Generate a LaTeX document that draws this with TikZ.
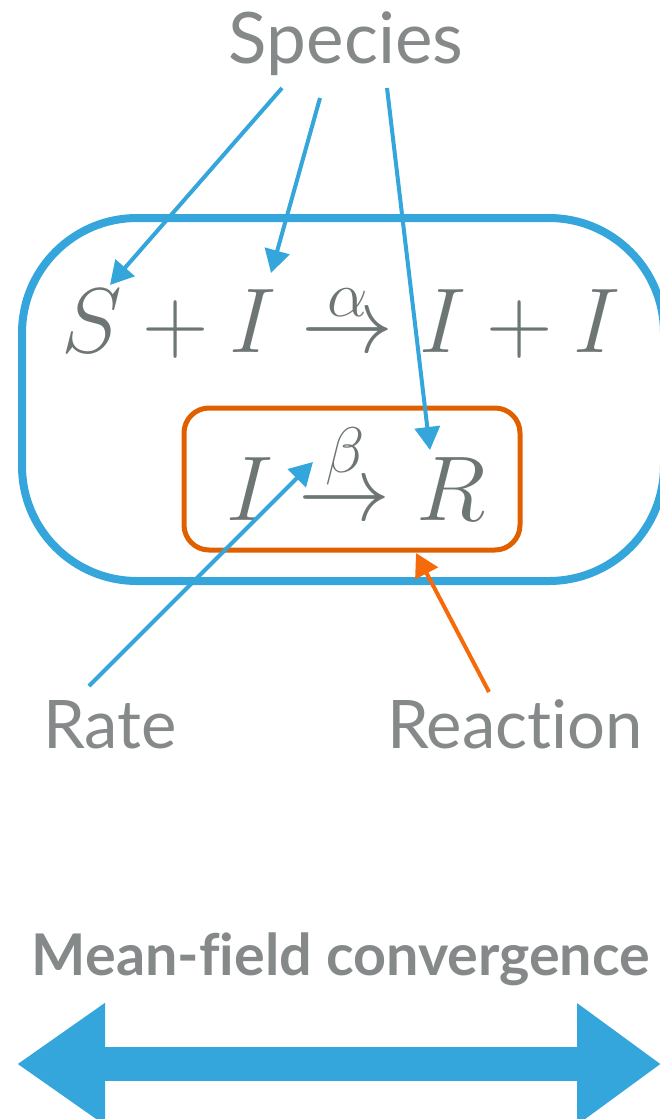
\RequirePackage{fix-cm}
\documentclass[tikz,border=0pt]{standalone}
\usepackage{fontspec}
\setmainfont{Lato}[Ligatures=NoCommon]
\usetikzlibrary{positioning,arrows.meta}

\definecolor{textgray}{RGB}{133,137,138}
\definecolor{mathgray}{RGB}{110,117,117}
\definecolor{specblue}{RGB}{53,166,219}
\definecolor{boxorange}{RGB}{224,96,0}
\definecolor{arroworange}{RGB}{245,107,12}

\tikzset{
  label text/.style={font=\fontsize{67}{72}\selectfont, text=textgray, inner sep=0pt},
  eq text/.style={font=\fontsize{92}{96}\selectfont, text=mathgray, inner sep=0pt},
  pointer/.style={line width=4pt, -{Triangle[length=23pt,width=25pt]}},
}

\begin{document}
\begin{tikzpicture}[x=1pt,y=-1pt]
\useasboundingbox (0,0) rectangle (660,1119);
% frames round the reactions
\node[draw=specblue, line width=8pt, rounded corners=115pt, minimum width=642pt, minimum height=363pt] (frame) at (343,399.5) {};
\node[draw=boxorange, line width=5pt, rounded corners=25pt, minimum width=336pt, minimum height=142pt] (recoverbox) at (352,479) {};
% the two reactions
\node[eq text, anchor=base] (infect) at (341,352) {$S+I\stackrel{\alpha}{\rightarrow}I+I$};
\node[eq text, anchor=base] (recover) at (356,520) {$I\stackrel{\beta}{\rightarrow}R$};
% labels
\node[label text, font=\fontsize{71}{76}\selectfont, anchor=base] (species) at (346,63) {Species};
\node[label text, anchor=base] (rate) at (110,748) {Rate};
\node[label text, anchor=base] (reaction) at (515,748) {Reaction};
\node[font=\bfseries\fontsize{57.5}{62}\selectfont, text=textgray, inner sep=0pt, anchor=base] (meanfield) at (341,975) {Mean-field convergence};
% pointer ends
\coordinate (sp1) at (282,88);
\coordinate (sp2) at (320,98);
\coordinate (sp3) at (387,88);
\coordinate (onS) at (110,285);
\coordinate (onI) at (271,273);
\coordinate (onR) at (430,450);
\coordinate (ratefoot) at (89,686);
\coordinate (onbeta) at (313,462);
\coordinate (reactfoot) at (489,692);
\coordinate (onbox) at (416,553);
\draw[pointer, specblue] (sp1) -- (onS);
\draw[pointer, specblue] (sp2) -- (onI);
\draw[pointer, specblue] (sp3) -- (onR);
\draw[pointer, specblue] (ratefoot) -- (onbeta);
\draw[pointer, arroworange] (reactfoot) -- (onbox);
% double arrow
\coordinate (mfleft) at (17,1064);
\coordinate (mfright) at (661,1064);
\draw[specblue, line width=34pt, {Triangle[length=88pt,width=116pt]}-{Triangle[length=84pt,width=116pt]}] (mfleft) -- (mfright);
\end{tikzpicture}
\end{document}
